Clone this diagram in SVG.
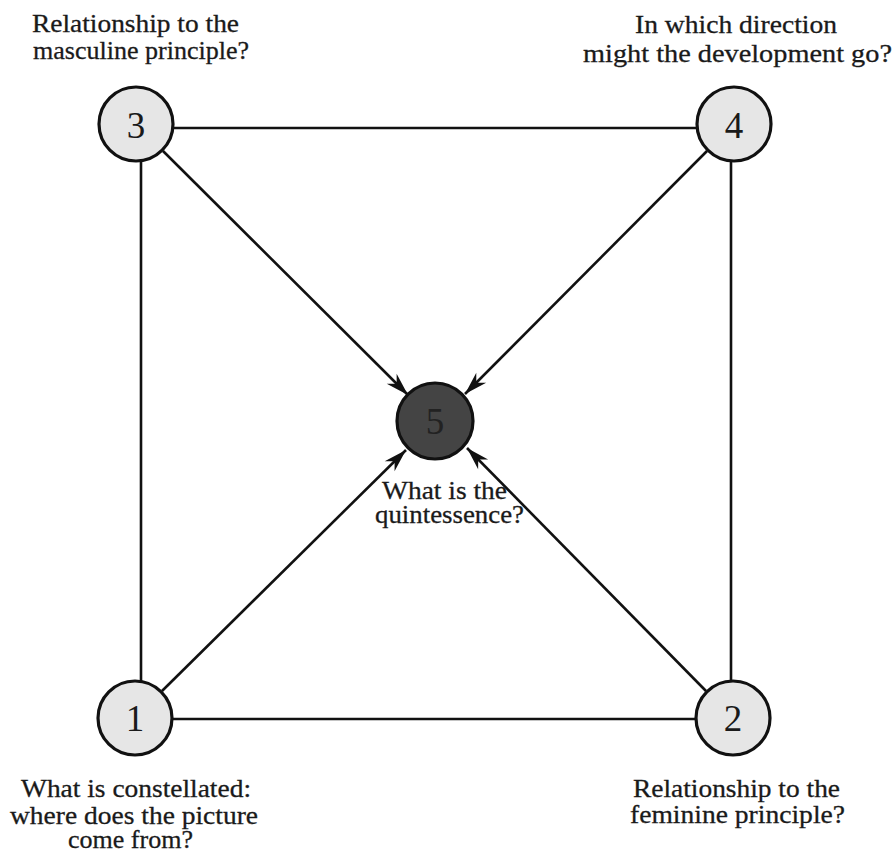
<svg xmlns="http://www.w3.org/2000/svg" width="894" height="853" viewBox="0 0 894 853">
<style>
.lbl{font-family:"Liberation Serif","Times New Roman",serif;font-size:26px;fill:#1a1a1a;stroke:#1a1a1a;stroke-width:0.3;text-anchor:middle}
.num{font-family:"Liberation Serif","Times New Roman",serif;font-size:37px;fill:#1a1a1a;text-anchor:middle}
.node{fill:#e6e6e6;stroke:#111;stroke-width:3.2}
.center{fill:#444;stroke:#111;stroke-width:3.2}
.edge{stroke:#111;stroke-width:2.6;fill:none}
</style>
<defs>
<marker id="arr" markerUnits="userSpaceOnUse" markerWidth="26" markerHeight="16" refX="24" refY="7" orient="auto" viewBox="0 0 26 14">
<path d="M24,7 L1,0 L8,7 L1,14 Z" fill="#111"/>
</marker>
</defs>
<rect width="894" height="853" fill="#fff"/>
<g id="connectors">
<line class="edge" x1="174" y1="128" x2="697" y2="128"/>
<line class="edge" x1="141" y1="162" x2="141" y2="681"/>
<line class="edge" x1="731" y1="162" x2="731" y2="681"/>
<line class="edge" x1="173" y1="719" x2="696" y2="719"/>
<line class="edge" x1="163" y1="151" x2="408" y2="395" marker-end="url(#arr)"/>
<line class="edge" x1="707" y1="151" x2="465" y2="394" marker-end="url(#arr)"/>
<line class="edge" x1="162" y1="691" x2="406" y2="450" marker-end="url(#arr)"/>
<line class="edge" x1="706" y1="691" x2="467" y2="448" marker-end="url(#arr)"/>
</g>
<g id="node3">
<circle class="node" cx="136" cy="124" r="37"/>
<text class="num" x="136" y="138">3</text>
<text class="lbl" x="135.5" y="32" textLength="207" lengthAdjust="spacingAndGlyphs">Relationship to the</text>
<text class="lbl" x="141" y="59" textLength="216" lengthAdjust="spacingAndGlyphs">masculine principle?</text>
</g>
<g id="node4">
<circle class="node" cx="734" cy="124" r="37"/>
<text class="num" x="734" y="138">4</text>
<text class="lbl" x="736" y="33" textLength="202" lengthAdjust="spacingAndGlyphs">In which direction</text>
<text class="lbl" x="737.5" y="62" textLength="309" lengthAdjust="spacingAndGlyphs">might the development go?</text>
</g>
<g id="node1">
<circle class="node" cx="135" cy="718" r="37"/>
<text class="num" x="135" y="731">1</text>
<text class="lbl" x="136" y="797" textLength="230" lengthAdjust="spacingAndGlyphs">What is constellated:</text>
<text class="lbl" x="134" y="824" textLength="248" lengthAdjust="spacingAndGlyphs">where does the picture</text>
<text class="lbl" x="130.5" y="848" textLength="125" lengthAdjust="spacingAndGlyphs">come from?</text>
</g>
<g id="node2">
<circle class="node" cx="733" cy="718" r="37"/>
<text class="num" x="733" y="731">2</text>
<text class="lbl" x="736.5" y="797" textLength="207" lengthAdjust="spacingAndGlyphs">Relationship to the</text>
<text class="lbl" x="737.5" y="823" textLength="215" lengthAdjust="spacingAndGlyphs">feminine principle?</text>
</g>
<g id="node5">
<circle class="center" cx="435" cy="421" r="38"/>
<text class="num" x="435" y="434" style="fill:#222">5</text>
<text class="lbl" x="444.5" y="499" textLength="125" lengthAdjust="spacingAndGlyphs">What is the</text>
<text class="lbl" x="449.5" y="523" textLength="149" lengthAdjust="spacingAndGlyphs">quintessence?</text>
</g>
</svg>
